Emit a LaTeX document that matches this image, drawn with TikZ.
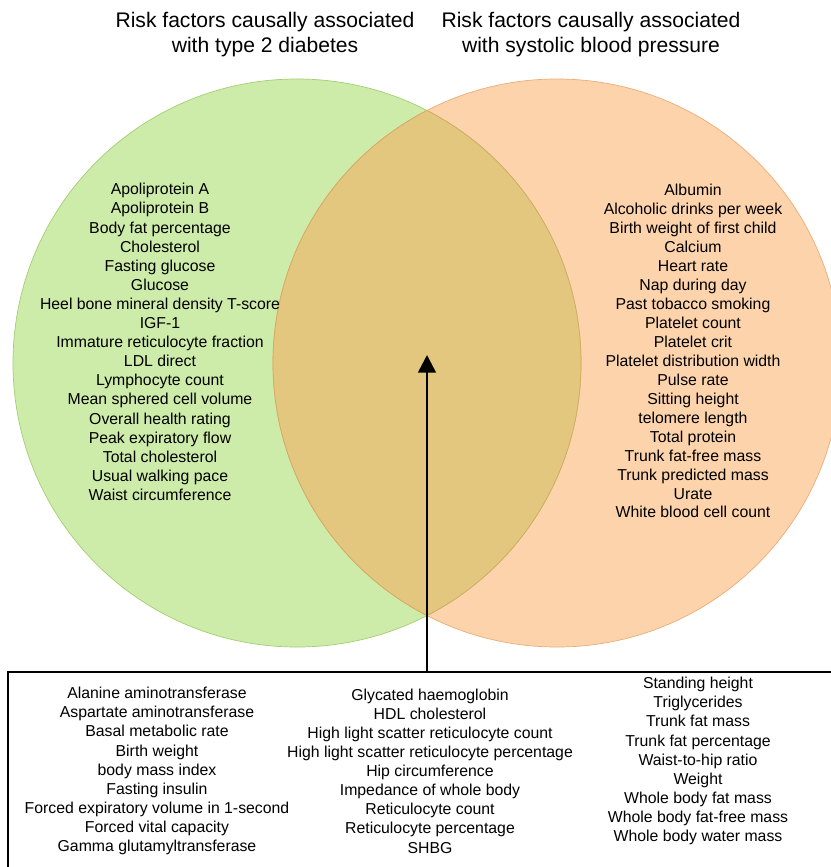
\documentclass[tikz,border=0pt]{standalone}
\usepackage{fontspec}
\setmainfont{Liberation Sans}
\usetikzlibrary{arrows.meta}

\definecolor{dmgreen}{RGB}{206,236,169}
\definecolor{dmgreenline}{RGB}{165,205,115}
\definecolor{bporange}{RGB}{253,211,171}
\definecolor{bporangeline}{RGB}{236,172,120}
\definecolor{bothtan}{RGB}{227,199,127}
\definecolor{bothline}{RGB}{214,168,98}

\tikzset{
	factors/.style={inner sep=0pt, align=center, font=\fontsize{13.5}{16.3}\selectfont},
	heading/.style={inner sep=0pt, align=center, font=\fontsize{18}{21.3}\selectfont},
}

\begin{document}
\begin{tikzpicture}[x=0.3mm,y=-0.3mm]
	% 画布大小 831 x 867(单位取像素,y 轴向下)
	\useasboundingbox (0,0) rectangle (831,867);
	\clip (0,0) rectangle (831,867);

	% 绘制两个圆,半径 284,圆心 (297,363) 和 (557,363)
	\fill[dmgreen] (297,363) circle (284);
	\fill[bporange] (557,363) circle (284);
	\draw[dmgreenline, line width=0.6pt] (297,363) circle (284);
	\draw[bporangeline, line width=0.6pt] (557,363) circle (284);

	% 交集部分(两圆重叠的区域)
	\begin{scope}
		\clip (297,363) circle (284);
		\fill[bothtan] (557,363) circle (284);
		\draw[bothline, line width=0.6pt] (557,363) circle (284);
	\end{scope}
	\begin{scope}
		\clip (557,363) circle (284);
		\draw[bothline, line width=0.6pt] (297,363) circle (284);
	\end{scope}

	% 标题
	\node[heading] (t2dtitle) at (265,35) {Risk factors causally associated\\with type 2 diabetes};
	\node[heading] (sbptitle) at (591,35) {Risk factors causally associated\\with systolic blood pressure};

	% 左圆:只与 2 型糖尿病相关
	\node[factors] (t2donly) at (160,342) {Apoliprotein A\\Apoliprotein B\\Body fat percentage\\Cholesterol\\Fasting glucose\\Glucose\\Heel bone mineral density T-score\\IGF-1\\Immature reticulocyte fraction\\LDL direct\\Lymphocyte count\\Mean sphered cell volume\\Overall health rating\\Peak expiratory flow\\Total cholesterol\\Usual walking pace\\Waist circumference};

	% 右圆:只与收缩压相关
	\node[factors, font=\fontsize{13.5}{16.2}\selectfont] (sbponly) at (693,351) {Albumin\\Alcoholic drinks per week\\Birth weight of first child\\Calcium\\Heart rate\\Nap during day\\Past tobacco smoking\\Platelet count\\Platelet crit\\Platelet distribution width\\Pulse rate\\Sitting height\\telomere length\\Total protein\\Trunk fat-free mass\\Trunk predicted mass\\Urate\\White blood cell count};

	% 下方方框:两者共同的因素
	\node[draw, line width=2.2pt, outer sep=0pt, minimum width=251.4mm, minimum height=65.4mm, anchor=north] (both) at (427,672) {};
	\coordinate (tip) at (427,355);
	\draw[line width=2.2pt, -{Triangle[length=15pt,width=15pt]}] (both.north) -- (tip);

	\node[factors] (bothleft) at (157,771) {Alanine aminotransferase\\Aspartate aminotransferase\\Basal metabolic rate\\Birth weight\\body mass index\\Fasting insulin\\Forced expiratory volume in 1-second\\Forced vital capacity\\Gamma glutamyltransferase};
	\node[factors] (bothmid) at (430,771) {Glycated haemoglobin\\HDL cholesterol\\High light scatter reticulocyte count\\High light scatter reticulocyte percentage\\Hip circumference\\Impedance of whole body\\Reticulocyte count\\Reticulocyte percentage\\SHBG};
	\node[factors] (bothright) at (698,761) {Standing height\\Triglycerides\\Trunk fat mass\\Trunk fat percentage\\Waist-to-hip ratio\\Weight\\Whole body fat mass\\Whole body fat-free mass\\Whole body water mass};
\end{tikzpicture}
\end{document}
